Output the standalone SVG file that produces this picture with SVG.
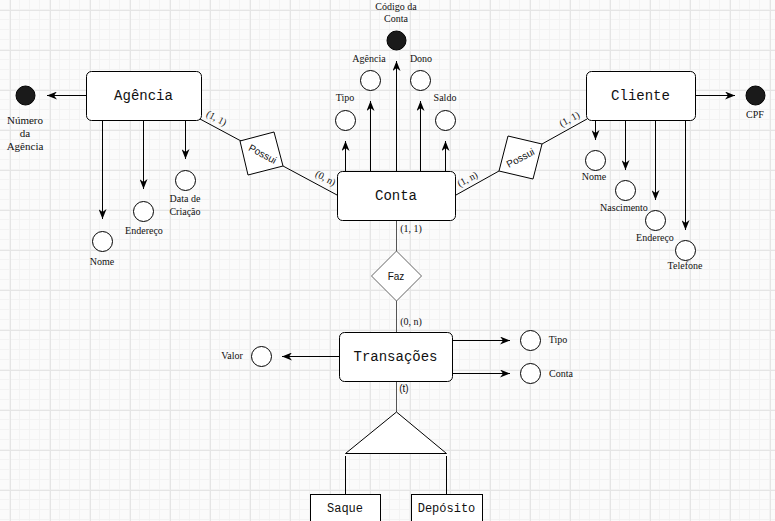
<svg xmlns="http://www.w3.org/2000/svg" width="775" height="521" viewBox="0 0 775 521">
  <defs>
    <pattern id="gridMinor" width="10" height="10" patternUnits="userSpaceOnUse">
      <path d="M9.5 0 V10 M0 9.5 H10" fill="none" stroke="#f3f3f3" stroke-width="1"/>
    </pattern>
    <pattern id="gridMajor" x="10" y="10" width="40" height="40" patternUnits="userSpaceOnUse">
      <rect width="40" height="40" fill="url(#gridMinor)"/>
      <path d="M0.5 0 V40 M0 0.5 H40" fill="none" stroke="#e5e5e5" stroke-width="1"/>
    </pattern>
    <marker id="arrow" viewBox="0 0 10 8" refX="10" refY="4" markerWidth="10" markerHeight="8" markerUnits="userSpaceOnUse" orient="auto">
      <path d="M0,0 L10,4 L0,8 L3,4 z" fill="#000"/>
    </marker>
    <style>
      .entity { fill: #fff; stroke: #000; stroke-width: 1; }
      .ent-label { font-family: "Liberation Mono", "Courier New", monospace; font-size: 14px; text-anchor: middle; fill: #111; }
      .sub-label { font-family: "Liberation Mono", "Courier New", monospace; font-size: 12px; text-anchor: middle; fill: #111; }
      .attr { fill: #fff; stroke: #000; stroke-width: 1; }
      .key { fill: #1a1a1a; stroke: #000; stroke-width: 1; }
      .attr-label { font-family: "Liberation Serif", "Times New Roman", serif; font-size: 10px; text-anchor: middle; fill: #111; }
      .attr-label-lg { font-family: "Liberation Serif", "Times New Roman", serif; font-size: 11px; text-anchor: middle; fill: #111; }
      .card { font-family: "Liberation Serif", "Times New Roman", serif; font-size: 10px; text-anchor: middle; fill: #111; }
      .rel { fill: #fff; stroke: #000; stroke-width: 1; }
      .rel-gray { fill: #fff; stroke: #666; stroke-width: 1; }
      .rel-label { font-family: "Liberation Sans", Arial, sans-serif; font-size: 10px; text-anchor: middle; fill: #111; }
      .link { fill: none; stroke: #000; stroke-width: 1; }
      .link-gray { fill: none; stroke: #555; stroke-width: 1; }
      .arr { fill: none; stroke: #000; stroke-width: 1; marker-end: url(#arrow); }
    </style>
  </defs>

  <!-- background grid -->
  <rect width="775" height="521" fill="#fbfbfb"/>
  <rect width="775" height="521" fill="url(#gridMajor)"/>

  <!-- connectors -->
  <g id="connectors">
    <!-- Agência attributes -->
    <line class="arr" x1="86" y1="95.5" x2="47" y2="95.5"/>
    <line class="arr" x1="102.5" y1="120" x2="102.5" y2="219"/>
    <line class="arr" x1="143.5" y1="120" x2="143.5" y2="189"/>
    <line class="arr" x1="185.5" y1="120" x2="185.5" y2="159"/>
    <!-- Agência - Possui - Conta -->
    <line class="link" x1="200" y1="119" x2="241" y2="141"/>
    <line class="link" x1="283" y1="166" x2="337" y2="195"/>
    <!-- Conta - Possui - Cliente -->
    <line class="link" x1="456" y1="195" x2="499" y2="171"/>
    <line class="link" x1="542" y1="144" x2="587" y2="119"/>
    <!-- Conta attributes -->
    <line class="arr" x1="345.5" y1="171" x2="345.5" y2="141"/>
    <line class="arr" x1="370.5" y1="171" x2="370.5" y2="101"/>
    <line class="arr" x1="396.5" y1="171" x2="396.5" y2="61"/>
    <line class="arr" x1="420.5" y1="171" x2="420.5" y2="101"/>
    <line class="arr" x1="445.5" y1="171" x2="445.5" y2="141"/>
    <!-- Cliente attributes -->
    <line class="arr" x1="695" y1="95.5" x2="735" y2="95.5"/>
    <line class="arr" x1="595.5" y1="120" x2="595.5" y2="140"/>
    <line class="arr" x1="625.5" y1="120" x2="625.5" y2="170"/>
    <line class="arr" x1="655.5" y1="120" x2="655.5" y2="200"/>
    <line class="arr" x1="685.5" y1="120" x2="685.5" y2="230"/>
    <!-- Conta - Faz - Transações -->
    <line class="link-gray" x1="396.5" y1="220" x2="396.5" y2="251"/>
    <line class="link-gray" x1="396.5" y1="301" x2="396.5" y2="332"/>
    <!-- Transações attributes -->
    <line class="arr" x1="339" y1="356.5" x2="282" y2="356.5"/>
    <line class="arr" x1="452" y1="340.5" x2="510" y2="340.5"/>
    <line class="arr" x1="452" y1="373.5" x2="510" y2="373.5"/>
    <!-- specialization -->
    <line class="link-gray" x1="396.5" y1="381" x2="396.5" y2="412"/>
    <line class="link" x1="345.5" y1="456" x2="345.5" y2="494"/>
    <line class="link" x1="446.5" y1="456" x2="446.5" y2="494"/>
    <!-- cardinalities -->
    <text class="card" transform="translate(215,121) rotate(28)">(1, 1)</text>
    <text class="card" transform="translate(324,181) rotate(28)">(0, n)</text>
    <text class="card" transform="translate(469,182) rotate(-28)">(1, n)</text>
    <text class="card" transform="translate(571,122) rotate(-28)">(1, 1)</text>
    <text class="card" x="411" y="232">(1, 1)</text>
    <text class="card" x="411" y="325">(0, n)</text>
    <text class="rel-label" x="404" y="392">(t)</text>
  </g>

  <!-- Agência -->
  <g id="agencia">
    <rect class="entity" x="86.5" y="71.5" width="115" height="49" rx="5"/>
    <text class="ent-label" x="143.5" y="100">Agência</text>
  </g>
  <g id="agencia-numero">
    <circle class="key" cx="25.5" cy="95.5" r="9.5"/>
    <text class="attr-label-lg" x="25" y="124">Número</text>
    <text class="attr-label-lg" x="25" y="137">da</text>
    <text class="attr-label-lg" x="25" y="150">Agência</text>
  </g>
  <g id="agencia-nome">
    <circle class="attr" cx="102.5" cy="241.5" r="10"/>
    <text class="attr-label" x="102" y="265">Nome</text>
  </g>
  <g id="agencia-endereco">
    <circle class="attr" cx="143.5" cy="211.5" r="10"/>
    <text class="attr-label" x="144" y="234">Endereço</text>
  </g>
  <g id="agencia-data">
    <circle class="attr" cx="185.5" cy="180.5" r="10"/>
    <text class="attr-label" x="185" y="202">Data de</text>
    <text class="attr-label" x="185" y="215">Criação</text>
  </g>

  <!-- Possui (Agência - Conta) -->
  <g id="possui-agencia">
    <polygon class="rel" points="240,141 274,132 283,166 248,175"/>
    <text class="rel-label" transform="translate(261,157) rotate(28)">Possui</text>
  </g>

  <!-- Conta -->
  <g id="conta">
    <rect class="entity" x="337.5" y="171.5" width="118" height="49" rx="5"/>
    <text class="ent-label" x="396" y="200">Conta</text>
  </g>
  <g id="conta-codigo">
    <circle class="key" cx="396.5" cy="40.5" r="9.5"/>
    <text class="attr-label" x="396" y="10">Código da</text>
    <text class="attr-label" x="396" y="22">Conta</text>
  </g>
  <g id="conta-tipo">
    <circle class="attr" cx="345.5" cy="120.5" r="10"/>
    <text class="attr-label" x="345" y="101">Tipo</text>
  </g>
  <g id="conta-agencia">
    <circle class="attr" cx="370.5" cy="80.5" r="10"/>
    <text class="attr-label" x="369" y="62">Agência</text>
  </g>
  <g id="conta-dono">
    <circle class="attr" cx="420.5" cy="80.5" r="10"/>
    <text class="attr-label" x="421" y="62">Dono</text>
  </g>
  <g id="conta-saldo">
    <circle class="attr" cx="445.5" cy="120.5" r="10"/>
    <text class="attr-label" x="445" y="101">Saldo</text>
  </g>

  <!-- Possui (Conta - Cliente) -->
  <g id="possui-cliente">
    <polygon class="rel" points="499,171 508,136 542,144 533,179"/>
    <text class="rel-label" transform="translate(522,161) rotate(-28)">Possui</text>
  </g>

  <!-- Cliente -->
  <g id="cliente">
    <rect class="entity" x="586.5" y="71.5" width="109" height="49" rx="5"/>
    <text class="ent-label" x="640.5" y="100">Cliente</text>
  </g>
  <g id="cliente-cpf">
    <circle class="key" cx="755.5" cy="95.5" r="9.5"/>
    <text class="attr-label" x="755" y="118">CPF</text>
  </g>
  <g id="cliente-nome">
    <circle class="attr" cx="595.5" cy="160.5" r="10"/>
    <text class="attr-label" x="594" y="180">Nome</text>
  </g>
  <g id="cliente-nascimento">
    <circle class="attr" cx="625.5" cy="190.5" r="10"/>
    <text class="attr-label" x="624" y="211">Nascimento</text>
  </g>
  <g id="cliente-endereco">
    <circle class="attr" cx="655.5" cy="220.5" r="10"/>
    <text class="attr-label" x="655" y="241">Endereço</text>
  </g>
  <g id="cliente-telefone">
    <circle class="attr" cx="685.5" cy="250.5" r="10"/>
    <text class="attr-label" x="685" y="269">Telefone</text>
  </g>

  <!-- Faz -->
  <g id="faz">
    <polygon class="rel-gray" points="396.5,251 421.5,276 396.5,301 371.5,276"/>
    <text class="rel-label" x="396" y="279.5">Faz</text>
  </g>

  <!-- Transações -->
  <g id="transacoes">
    <rect class="entity" x="339.5" y="332.5" width="113" height="49" rx="5"/>
    <text class="ent-label" x="395.5" y="361">Transações</text>
  </g>
  <g id="transacoes-valor">
    <circle class="attr" cx="261.5" cy="356.5" r="10"/>
    <text class="attr-label" x="232" y="359">Valor</text>
  </g>
  <g id="transacoes-tipo">
    <circle class="attr" cx="530.5" cy="340.5" r="10"/>
    <text class="attr-label" x="558" y="343">Tipo</text>
  </g>
  <g id="transacoes-conta">
    <circle class="attr" cx="530.5" cy="373.5" r="10"/>
    <text class="attr-label" x="561" y="377">Conta</text>
  </g>

  <!-- specialization triangle -->
  <g id="especializacao">
    <polygon class="rel" points="396.5,412 446.5,453.5 345.5,453.5"/>
  </g>

  <!-- subtypes -->
  <g id="saque">
    <rect class="entity" x="310.5" y="494.5" width="70" height="30"/>
    <text class="sub-label" x="345" y="512">Saque</text>
  </g>
  <g id="deposito">
    <rect class="entity" x="411.5" y="494.5" width="71" height="30"/>
    <text class="sub-label" x="446.5" y="512">Depósito</text>
  </g>
</svg>
